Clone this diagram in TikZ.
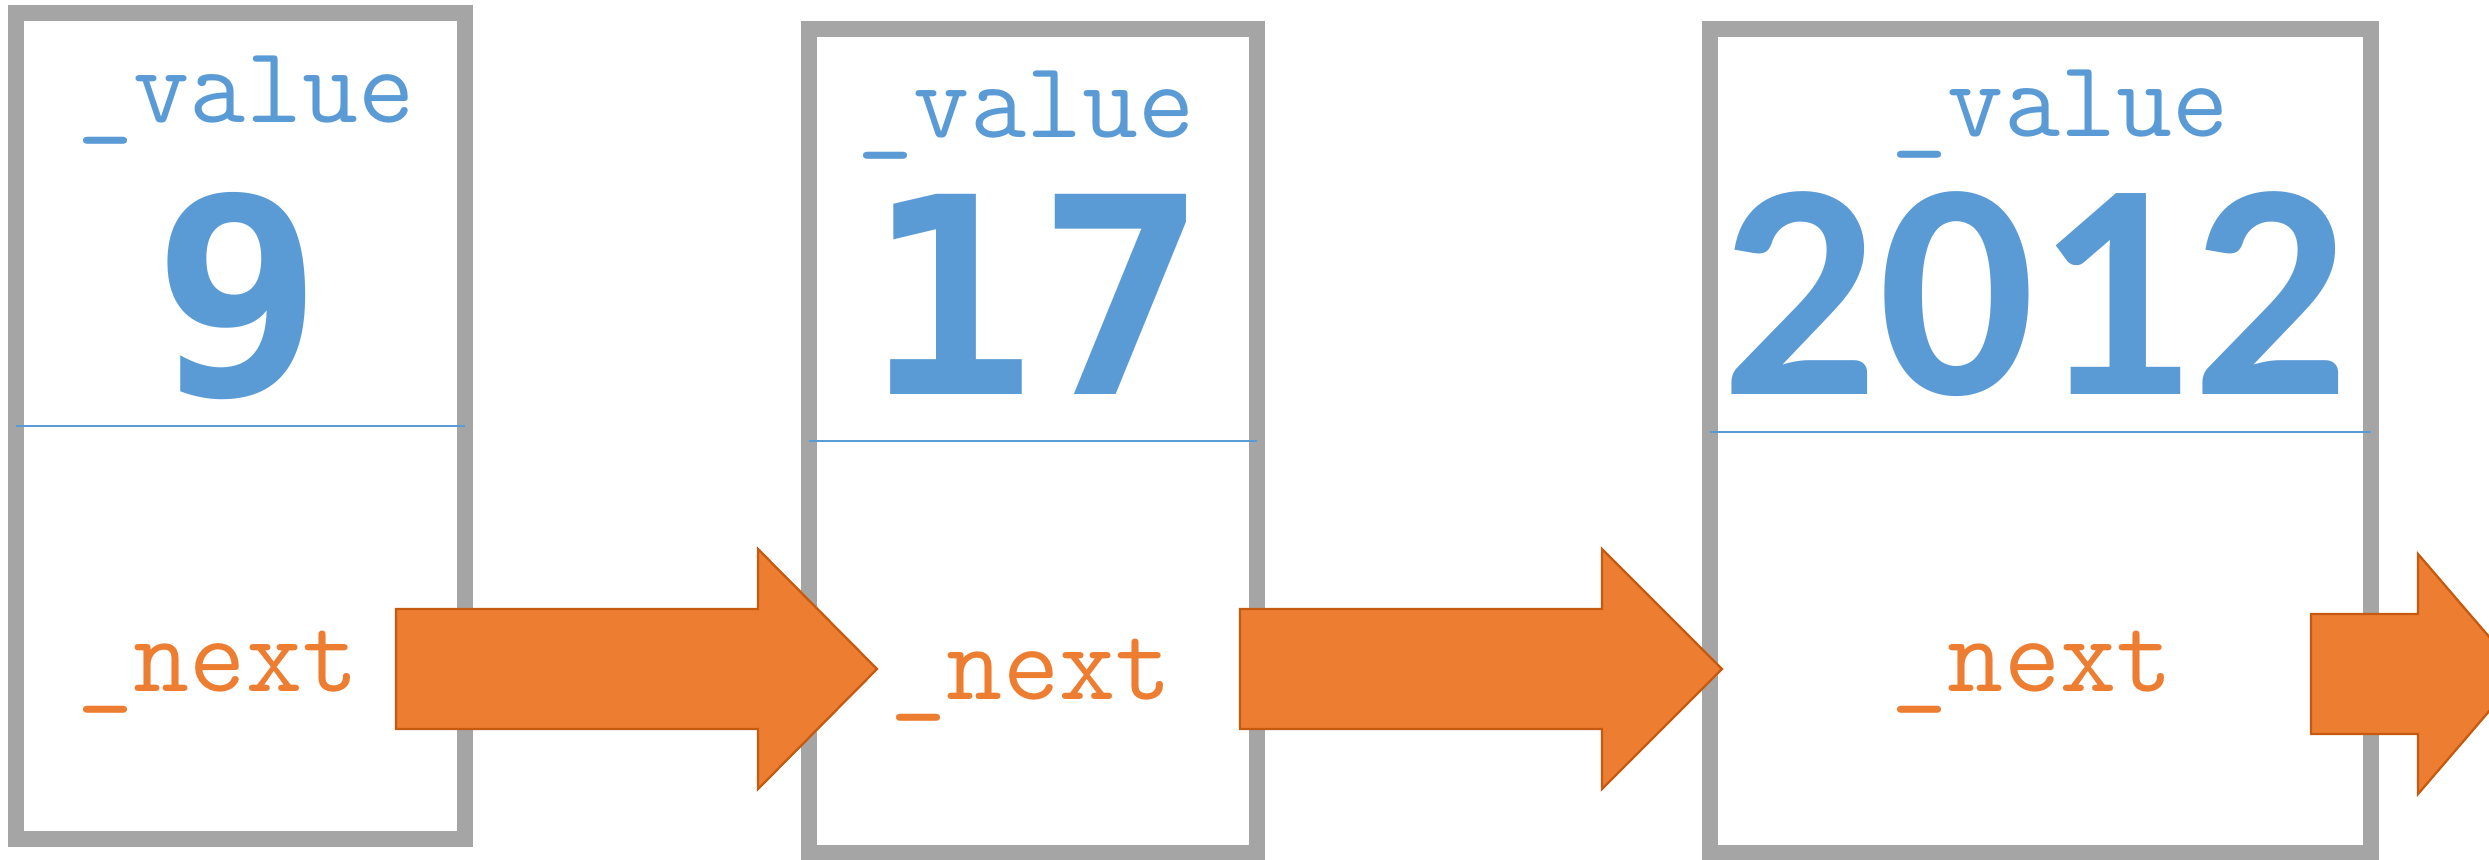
\documentclass[tikz,border=0pt]{standalone}
\usepackage{fontspec}
\usepackage{graphicx}
\newfontfamily\yearfont{Carlito}
\newfontfamily\numfont{DejaVu Sans Mono}
\usetikzlibrary{calc}

\definecolor{cellgray}{HTML}{A5A5A5}
\definecolor{valueblue}{HTML}{5B9BD5}
\definecolor{nextorange}{HTML}{ED7D31}
\definecolor{arrowedge}{HTML}{C55A11}

\begin{document}
\begin{tikzpicture}[x=0.01cm, y=-0.01cm,
	cell/.style={rectangle, draw=cellgray, line width=4.55pt, outer sep=0pt, inner sep=0pt},
	divider/.style={draw=valueblue, line width=0.45pt},
	field/.style={anchor=base west, inner sep=0pt, font=\ttfamily\fontsize{31pt}{31pt}\selectfont},
	valfield/.style={field, text=valueblue},
	nextfield/.style={field, text=nextorange},
	number/.style={anchor=base, inner sep=0pt, text=valueblue, font=\numfont\bfseries\fontsize{71pt}{71pt}\selectfont},
	year/.style={anchor=base, inner sep=0pt, text=valueblue, font=\yearfont\bfseries\fontsize{88pt}{88pt}\selectfont},
	blockarrow/.style={fill=nextorange, draw=arrowedge, line width=0.65pt, line join=miter}]
	\useasboundingbox (0,0) rectangle (2489,859);
	\clip (0,0) rectangle (2489,859);
	% the three list cells
	\node[cell, minimum width=4.49cm, minimum height=8.26cm] (cell9)    at (240.5,426) {};
	\node[cell, minimum width=4.48cm, minimum height=8.24cm] (cell17)   at (1033,441)  {};
	\node[cell, minimum width=6.61cm, minimum height=8.24cm] (cell2012) at (2040.5,441) {};
	\draw[divider] (cell9.west) -- (cell9.east);
	\draw[divider] (cell17.west) -- (cell17.east);
	\draw[divider] ($(cell2012.west)+(0,-9)$) -- ($(cell2012.east)+(0,-9)$);
	% fields
	\node[valfield]  (value9)    at (77,122)   {\_value};
	\node[number]    (num9)      at (238.5,394) {\scalebox{1.14}[1.1]{9}};
	\node[nextfield] (next9)     at (77,691)   {\_next};
	\node[valfield]  (value17)   at (857,137)  {\_value};
	\node[number]    (num17)     at (1036,394) {\scalebox{1.14}[1.1]{17}};
	\node[nextfield] (next17)    at (890,699)  {\_next};
	\node[valfield]  (value2012) at (1891,136) {\_value};
	\node[year]      (num2012)   at (2035,394) {2012};
	\node[nextfield] (next2012)  at (1891,691) {\_next};
	% links
	\coordinate (tail9) at (396,669);
	\coordinate (tip9) at (877,669);
	\coordinate (tail17) at (1240,669);
	\coordinate (tip17) at (1722,669);
	\coordinate (tail2012) at (2311,674);
	\coordinate (tip2012) at (2521,674);
	\draw[blockarrow] ($(tail9)+(0,-60)$) -- ($(tip9)+(-119,-60)$) -- ($(tip9)+(-119,-120)$) -- (tip9)
		-- ($(tip9)+(-119,120)$) -- ($(tip9)+(-119,60)$) -- ($(tail9)+(0,60)$) -- cycle;
	\draw[blockarrow] ($(tail17)+(0,-60)$) -- ($(tip17)+(-120,-60)$) -- ($(tip17)+(-120,-120)$) -- (tip17)
		-- ($(tip17)+(-120,120)$) -- ($(tip17)+(-120,60)$) -- ($(tail17)+(0,60)$) -- cycle;
	\draw[blockarrow] ($(tail2012)+(0,-60)$) -- ($(tip2012)+(-103,-60)$) -- ($(tip2012)+(-103,-120)$) -- (tip2012)
		-- ($(tip2012)+(-103,120)$) -- ($(tip2012)+(-103,60)$) -- ($(tail2012)+(0,60)$) -- cycle;
\end{tikzpicture}
\end{document}
